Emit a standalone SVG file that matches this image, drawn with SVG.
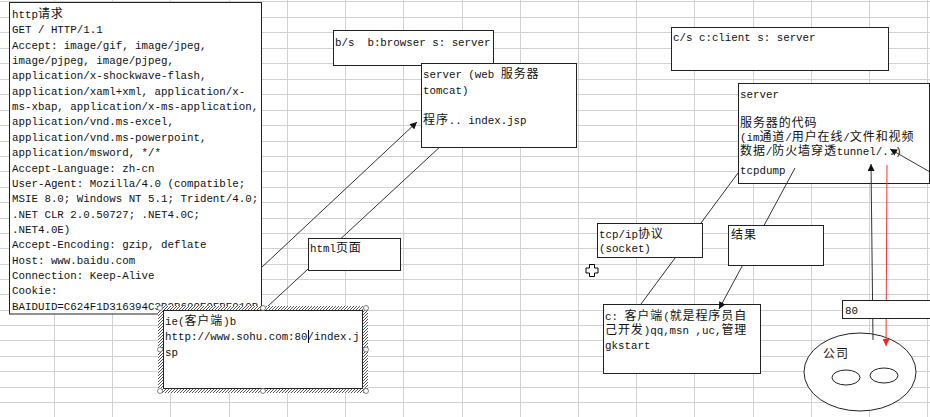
<svg xmlns="http://www.w3.org/2000/svg" width="930" height="417" viewBox="0 0 930 417">
<style>
.grid line{stroke:#d2d2d2;stroke-width:1}
.box{fill:#fff;stroke:#222;stroke-width:1}
.t{font-family:"Liberation Mono","Noto Sans CJK SC",monospace;font-size:10.8px;fill:#111}
.c{font-family:"Noto Sans CJK SC","Liberation Sans",sans-serif;font-size:12px;letter-spacing:0.9px}
.ln{stroke:#333;stroke-width:1;fill:none}
.handle{fill:#fff;stroke:#666;stroke-width:0.8}
</style>
<defs>
<marker id="ah" viewBox="0 0 10 10" refX="10" refY="5" markerWidth="8" markerHeight="7" orient="auto" markerUnits="userSpaceOnUse"><path d="M0,0 L10,5 L0,10 z" fill="#111"/></marker>
<marker id="ahr" viewBox="0 0 10 10" refX="10" refY="5" markerWidth="8" markerHeight="7" orient="auto" markerUnits="userSpaceOnUse"><path d="M0,0 L10,5 L0,10 z" fill="#ff2020"/></marker>
<pattern id="hatch" patternUnits="userSpaceOnUse" width="3" height="3"><rect width="3" height="3" fill="#fff"/><path d="M-1,1 L1,-1 M0,3 L3,0 M2,4 L4,2" stroke="#555" stroke-width="1"/></pattern>
<clipPath id="clipHttp"><rect x="9" y="2" width="252" height="312"/></clipPath>
</defs>
<rect width="930" height="417" fill="#fff"/>
<g class="grid">
<line x1="0" y1="1.5" x2="930" y2="1.5"/><line x1="0" y1="17.5" x2="930" y2="17.5"/><line x1="0" y1="32.5" x2="930" y2="32.5"/><line x1="0" y1="48.5" x2="930" y2="48.5"/><line x1="0" y1="63.5" x2="930" y2="63.5"/><line x1="0" y1="79.5" x2="930" y2="79.5"/><line x1="0" y1="94.5" x2="930" y2="94.5"/><line x1="0" y1="110.5" x2="930" y2="110.5"/><line x1="0" y1="125.5" x2="930" y2="125.5"/><line x1="0" y1="141.5" x2="930" y2="141.5"/><line x1="0" y1="156.5" x2="930" y2="156.5"/><line x1="0" y1="171.5" x2="930" y2="171.5"/><line x1="0" y1="187.5" x2="930" y2="187.5"/><line x1="0" y1="202.5" x2="930" y2="202.5"/><line x1="0" y1="218.5" x2="930" y2="218.5"/><line x1="0" y1="233.5" x2="930" y2="233.5"/><line x1="0" y1="248.5" x2="930" y2="248.5"/><line x1="0" y1="264.5" x2="930" y2="264.5"/><line x1="0" y1="279.5" x2="930" y2="279.5"/><line x1="0" y1="294.5" x2="930" y2="294.5"/><line x1="0" y1="310.5" x2="930" y2="310.5"/><line x1="0" y1="325.5" x2="930" y2="325.5"/><line x1="0" y1="340.5" x2="930" y2="340.5"/><line x1="0" y1="356.5" x2="930" y2="356.5"/><line x1="0" y1="371.5" x2="930" y2="371.5"/><line x1="0" y1="387.5" x2="930" y2="387.5"/><line x1="0" y1="402.5" x2="930" y2="402.5"/>
<line x1="54.5" y1="0" x2="54.5" y2="417"/><line x1="112.5" y1="0" x2="112.5" y2="417"/><line x1="170.5" y1="0" x2="170.5" y2="417"/><line x1="229.5" y1="0" x2="229.5" y2="417"/><line x1="287.5" y1="0" x2="287.5" y2="417"/><line x1="345.5" y1="0" x2="345.5" y2="417"/><line x1="403.5" y1="0" x2="403.5" y2="417"/><line x1="462.5" y1="0" x2="462.5" y2="417"/><line x1="520.5" y1="0" x2="520.5" y2="417"/><line x1="578.5" y1="0" x2="578.5" y2="417"/><line x1="636.5" y1="0" x2="636.5" y2="417"/><line x1="694.5" y1="0" x2="694.5" y2="417"/><line x1="753.5" y1="0" x2="753.5" y2="417"/><line x1="811.5" y1="0" x2="811.5" y2="417"/><line x1="869.5" y1="0" x2="869.5" y2="417"/><line x1="927.5" y1="0" x2="927.5" y2="417"/>
</g>

<g id="http-request">
<rect class="box" x="9.5" y="2.5" width="252" height="311.5"/>
<g clip-path="url(#clipHttp)">
<text class="t" x="12" y="18"><tspan>http</tspan><tspan class="c">请求</tspan></text>
<text class="t" x="12" y="33.35">GET / HTTP/1.1</text>
<text class="t" x="12" y="48.7">Accept: image/gif, image/jpeg,</text>
<text class="t" x="12" y="64.05">image/pjpeg, image/pjpeg,</text>
<text class="t" x="12" y="79.4">application/x-shockwave-flash,</text>
<text class="t" x="12" y="94.75">application/xaml+xml, application/x-</text>
<text class="t" x="12" y="110.1">ms-xbap, application/x-ms-application,</text>
<text class="t" x="12" y="125.45">application/vnd.ms-excel,</text>
<text class="t" x="12" y="140.8">application/vnd.ms-powerpoint,</text>
<text class="t" x="12" y="156.15">application/msword, */*</text>
<text class="t" x="12" y="171.5">Accept-Language: zh-cn</text>
<text class="t" x="12" y="186.85">User-Agent: Mozilla/4.0 (compatible;</text>
<text class="t" x="12" y="202.2">MSIE 8.0; Windows NT 5.1; Trident/4.0;</text>
<text class="t" x="12" y="217.55">.NET CLR 2.0.50727; .NET4.0C;</text>
<text class="t" x="12" y="232.9">.NET4.0E)</text>
<text class="t" x="12" y="248.25">Accept-Encoding: gzip, deflate</text>
<text class="t" x="12" y="263.6">Host: www.baidu.com</text>
<text class="t" x="12" y="278.95">Connection: Keep-Alive</text>
<text class="t" x="12" y="294.3">Cookie:</text>
<text class="t" x="12" y="309.65">BAIDUID=C624F1D316394C3B2B609E9FBE010B</text>
</g>
</g>

<g id="connectors-left">
<line class="ln" x1="261" y1="268" x2="417" y2="122" marker-end="url(#ah)"/>
<line class="ln" x1="267" y1="307" x2="442" y2="145"/>
</g>

<g id="bs">
<rect class="box" x="333.5" y="30.5" width="160" height="35"/>
<text class="t" x="335" y="45.5" xml:space="preserve">b/s  b:browser s: server</text>
</g>

<g id="web-server">
<rect class="box" x="421.5" y="63.5" width="155" height="84"/>
<text class="t" x="423" y="77.5" xml:space="preserve"><tspan>server (web </tspan><tspan class="c">服务器</tspan></text>
<text class="t" x="423" y="93.5">tomcat)</text>
<text class="t" x="423" y="123.5"><tspan class="c">程序</tspan><tspan>.. index.jsp</tspan></text>
</g>

<g id="html-page">
<rect class="box" x="308.5" y="238.5" width="92" height="32"/>
<text class="t" x="310" y="251.5"><tspan>html</tspan><tspan class="c">页面</tspan></text>
</g>

<g id="ie-client">
<path d="M158,306 H368 V393 H158 Z M163,310 V389 H363 V310 Z" fill="url(#hatch)" fill-rule="evenodd"/>
<rect class="box" x="163.5" y="310.5" width="199" height="78"/>
<text class="t" x="165" y="324.5"><tspan>ie(</tspan><tspan class="c">客户端</tspan><tspan>)b</tspan></text>
<text class="t" x="165" y="340">http://www.sohu.com:80/index.j</text>
<text class="t" x="165" y="355.5">sp</text>
<line x1="308.5" y1="330" x2="308.5" y2="343" stroke="#000" stroke-width="1"/>
<circle class="handle" cx="160" cy="308" r="2.5"/><circle class="handle" cx="263" cy="308" r="2.5"/><circle class="handle" cx="366" cy="308" r="2.5"/>
<circle class="handle" cx="160" cy="349.5" r="2.5"/><circle class="handle" cx="366" cy="349.5" r="2.5"/>
<circle class="handle" cx="160" cy="391" r="2.5"/><circle class="handle" cx="263" cy="391" r="2.5"/><circle class="handle" cx="366" cy="391" r="2.5"/>
</g>

<g id="cs">
<rect class="box" x="671.5" y="27.5" width="217" height="43"/>
<text class="t" x="673" y="40.5">c/s c:client s: server</text>
</g>

<g id="server">
<rect class="box" x="738.5" y="83.5" width="191" height="100"/>
<text class="t" x="740" y="97.5">server</text>
<text class="t" x="740" y="126.5"><tspan class="c">服务器的代码</tspan></text>
<text class="t" x="740" y="140.5"><tspan>(im</tspan><tspan class="c">通道</tspan><tspan>/</tspan><tspan class="c">用户在线</tspan><tspan>/</tspan><tspan class="c">文件和视频</tspan></text>
<text class="t" x="740" y="154.5"><tspan class="c">数据</tspan><tspan>/</tspan><tspan class="c">防火墙穿透</tspan><tspan>tunnel/..)</tspan></text>
<text class="t" x="740" y="173.5">tcpdump</text>
</g>

<g id="client">
<rect class="box" x="603.5" y="304.5" width="157" height="69"/>
<text class="t" x="605" y="319.5" xml:space="preserve"><tspan>c: </tspan><tspan class="c">客户端</tspan><tspan>(</tspan><tspan class="c">就是程序员自</tspan></text>
<text class="t" x="605" y="333.5"><tspan class="c">己开发</tspan><tspan>)qq,msn ,uc,</tspan><tspan class="c">管理</tspan></text>
<text class="t" x="605" y="348.5">gkstart</text>
</g>

<g id="company">
<ellipse cx="860" cy="372" rx="56" ry="39" fill="#fff" stroke="#222" stroke-width="1"/>
<ellipse cx="846" cy="377.5" rx="14" ry="7.5" fill="#fff" stroke="#222" stroke-width="1"/>
<ellipse cx="884" cy="375.5" rx="14" ry="7.5" fill="#fff" stroke="#222" stroke-width="1"/>
<text class="t" x="823" y="357.5"><tspan class="c">公司</tspan></text>
</g>

<g id="connectors-right">
<line class="ln" x1="738" y1="173" x2="641" y2="304"/>
<line class="ln" x1="795" y1="168" x2="719" y2="309" marker-end="url(#ah)"/>
<line class="ln" x1="930" y1="172" x2="890" y2="149" marker-end="url(#ah)"/>
<line class="ln" x1="873" y1="340" x2="871" y2="164" stroke="#111" marker-end="url(#ah)"/>
<line x1="887" y1="165" x2="886" y2="346" stroke="#ff3030" stroke-width="1" marker-end="url(#ahr)"/>
</g>

<g id="tcpip">
<rect class="box" x="597.5" y="223.5" width="105" height="34"/>
<text class="t" x="599" y="237.5"><tspan>tcp/ip</tspan><tspan class="c">协议</tspan></text>
<text class="t" x="599" y="251.5">(socket)</text>
</g>

<g id="result">
<rect class="box" x="728.5" y="225.5" width="95" height="40"/>
<text class="t" x="731" y="238.5"><tspan class="c">结果</tspan></text>
</g>

<g id="port80">
<rect class="box" x="842.5" y="300.5" width="100" height="18"/>
<text class="t" x="845" y="313.5">80</text>
</g>

<g id="cursor">
<path d="M589.5,264.5 h5 v3.5 h3.5 v5 h-3.5 v3.5 h-5 v-3.5 h-3.5 v-5 h3.5 z" fill="#fff" stroke="#000" stroke-width="1"/>
</g>
</svg>
